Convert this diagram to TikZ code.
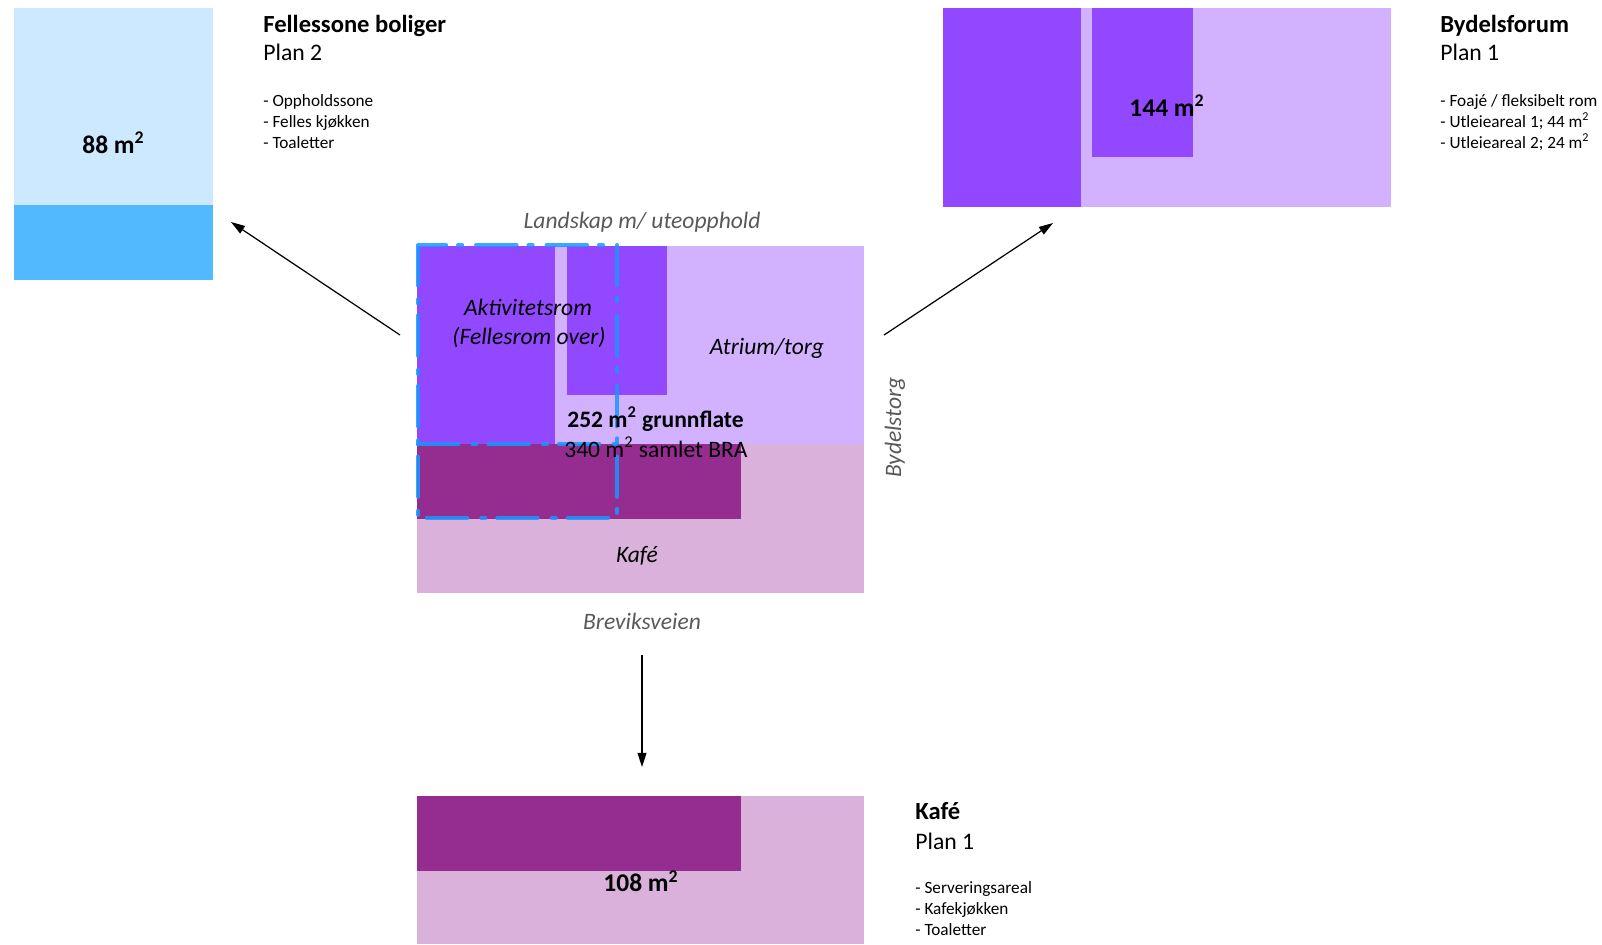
\documentclass[tikz,border=0pt]{standalone}
\usepackage{fontspec}
\setmainfont{Carlito}
\usepackage{xcolor}
\usepackage{tikz}
\usetikzlibrary{arrows.meta}
\definecolor{lblue}{RGB}{204,233,255}
\definecolor{mblue}{RGB}{83,185,255}
\definecolor{lpurp}{RGB}{210,178,255}
\definecolor{dpurp}{RGB}{146,72,255}
\definecolor{lpink}{RGB}{217,177,218}
\definecolor{dmag}{RGB}{149,45,145}
\definecolor{dashblue}{RGB}{25,150,255}
\definecolor{txtgrey}{RGB}{89,89,89}
\newcommand{\kvm}{m\textsuperscript{2}}
\tikzset{ttl/.style={anchor=base west,inner sep=0,font=\fontsize{14}{16}\selectfont\bfseries}}
\tikzset{pln/.style={anchor=base west,inner sep=0,font=\fontsize{13.5}{16}\selectfont}}
\tikzset{itm/.style={anchor=base west,inner sep=0,font=\fontsize{9.8}{12}\selectfont}}
\tikzset{area/.style={anchor=base,inner sep=0,font=\fontsize{14.5}{17}\selectfont\bfseries}}
\tikzset{lbl/.style={anchor=base,inner sep=0,font=\fontsize{13.4}{16}\selectfont\itshape}}
\tikzset{road/.style={lbl,text=txtgrey}}
\tikzset{fellesline/.style={draw=dashblue,draw opacity=0.85,line width=2.3pt,line cap=round,dash pattern=on 23pt off 8pt on 2.3pt off 6.8pt}}

\begin{document}
\begin{tikzpicture}[x=0.02cm,y=-0.02cm,>={Triangle[length=8pt,width=5pt]}]
    \useasboundingbox (0,0) rectangle (1602,944);

    \fill[lblue] (14,8) rectangle (213,205);
    \fill[mblue] (14,205) rectangle (213,280);
    \node[area] (fa) at (113.5,153) {88 \kvm};
    \node[ttl] (ft) at (263,32.3) {Fellessone boliger};
    \node[pln] (fp) at (263,60.7) {Plan 2};
    \node[itm] (f1) at (263,106) {- Oppholdssone};
    \node[itm] (f2) at (263,127) {- Felles kjøkken};
    \node[itm] (f3) at (263,148) {- Toaletter};

    \fill[lpurp] (943,8) rectangle (1391,207);
    \fill[dpurp] (943,8) rectangle (1081,207);
    \fill[dpurp] (1092,8) rectangle (1193,157);
    \node[area] (ba) at (1167,116) {144 \kvm};
    \node[ttl] (bt) at (1440,32.3) {Bydelsforum};
    \node[pln] (bp) at (1440,60.7) {Plan 1};
    \node[itm] (b1) at (1440,106) {- Foajé / fleksibelt rom};
    \node[itm] (b2) at (1440,127) {- Utleieareal 1; 44 \kvm};
    \node[itm] (b3) at (1440,148) {- Utleieareal 2; 24 \kvm};

    \fill[lpurp] (417,246) rectangle (864,444);
    \fill[lpink] (417,444) rectangle (864,593);
    \fill[dpurp] (417,246) rectangle (555,444);
    \fill[dpurp] (567,246) rectangle (667,395);
    \fill[dmag] (417,444) rectangle (741,519);
    \draw[fellesline] (418,245) rectangle (617,518);
    \draw[fellesline] (418,444) -- (617,444);
    \node[road] (land) at (642,228) {Landskap m/ uteopphold};
    \node[lbl] (akt) at (528,315) {Aktivitetsrom};
    \node[lbl] (akt2) at (529,344) {(Fellesrom over)};
    \node[lbl] (atr) at (767,354) {Atrium/torg};
    \node[anchor=base west,inner sep=0,font=\fontsize{13.4}{16}\selectfont\bfseries] (gf) at (567,427) {252 \kvm{} grunnflate};
    \node[anchor=base west,inner sep=0,font=\fontsize{13.4}{16}\selectfont] (bra) at (564,457) {340 \kvm{} samlet BRA};
    \node[lbl] (kaf) at (637,562) {Kafé};
    \node[road] (brev) at (642,629) {Breviksveien};
    \node[road,rotate=90] (byt) at (901,427.5) {Bydelstorg};

    \fill[lpink] (417,796) rectangle (864,944);
    \fill[dmag] (417,796) rectangle (741,871);
    \node[area] (ka) at (641,891.7) {108 \kvm};
    \node[ttl] (kt) at (915,819) {Kafé};
    \node[pln] (kp) at (915,849.3) {Plan 1};
    \node[itm] (k1) at (915,893) {- Serveringsareal};
    \node[itm] (k2) at (915,914) {- Kafekjøkken};
    \node[itm] (k3) at (915,935) {- Toaletter};

    \coordinate (l0) at (400,335);
    \coordinate (l1) at (231,222);
    \coordinate (r0) at (884,335);
    \coordinate (r1) at (1053,223);
    \coordinate (d0) at (642,655);
    \coordinate (d1) at (642,767);

    \draw [->,line width=0.7pt] (l0) to [] (l1);
    \draw [->,line width=0.7pt] (r0) to [] (r1);
    \draw [->,line width=0.7pt] (d0) to [] (d1);
\end{tikzpicture}
\end{document}
